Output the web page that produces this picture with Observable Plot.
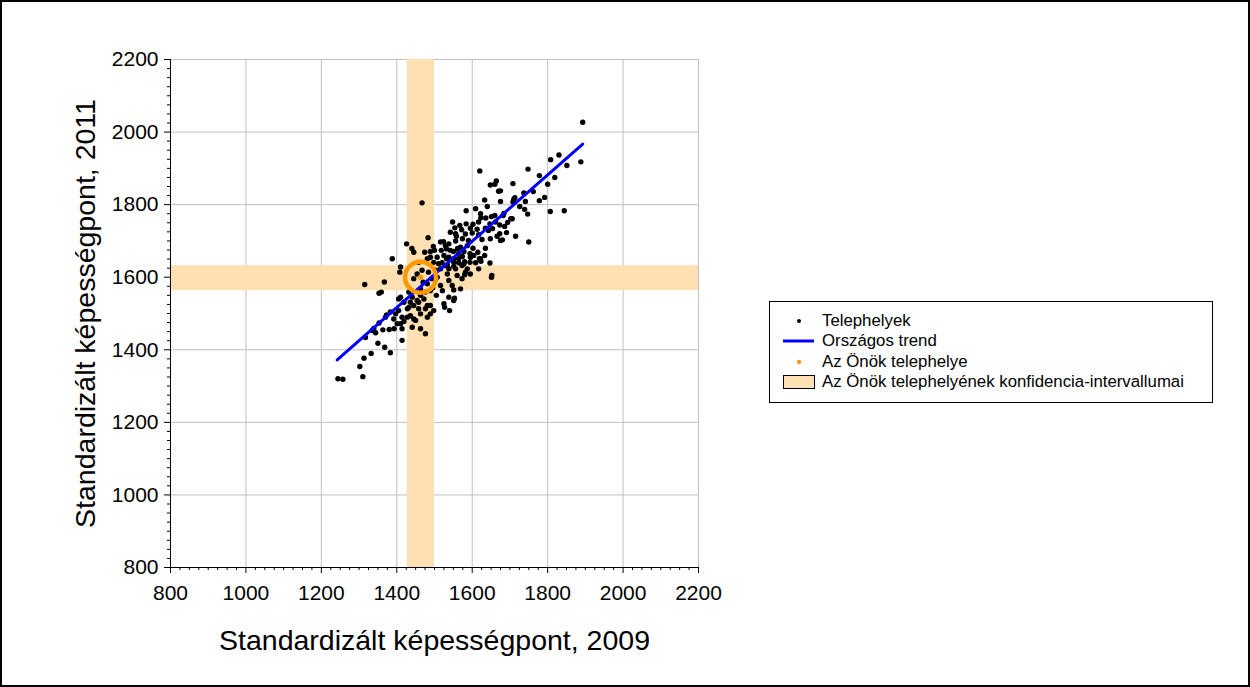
<!DOCTYPE html>
<html>
<head>
<meta charset="utf-8">
<script src="https://cdn.jsdelivr.net/npm/d3@7"></script>
<script src="https://cdn.jsdelivr.net/npm/@observablehq/plot@0.6"></script>
<style>
  html, body { margin: 0; padding: 0; background: #fff; }
  #wrap { position: relative; width: 1250px; height: 687px; overflow: hidden; font-family: "Liberation Sans", Arial, sans-serif; }
  #frame { position: absolute; left: 0; top: 0; width: 1250px; height: 687px; box-sizing: border-box; border: 2px solid #000; pointer-events: none; }
  #legend { position: absolute; left: 769px; top: 301px; width: 444px; height: 102px; box-sizing: border-box; border: 1px solid #000; background: #fff; }
  .row { position: absolute; left: 52px; font-size: 16.8px; line-height: 18px; color: #000; white-space: nowrap; }
  .sym { position: absolute; }
</style>
</head>
<body>
<div id="wrap">
  <div id="chart"></div>
  <div id="legend"></div>
  <div id="frame"></div>
</div>
<script>
// Site scores: 2009 (x) and 2011 (y)
const x2009 = [1893,1888,1851,1830,1808,1748,1778,1819,1800,1762,1792,1778,1844,1807,1741,1726,1739,1747,1750,1715,
  1708,1670,1664,1660,1648,1620,1675,1633,1640,1609,1584,1710,1706,1682,1675,1737,1675,1713,1708,
  1622,1623,1636,1651,1660,1684,1702,1662,1673,1647,1686,1548,1567,1584,1602,1617,1554,1572,1595,1613,1635,
  1542,1558,1582,1600,1617,1626,1648,1666,1673,1680,1524,1538,1556,1569,1587,1602,1518,1532,1550,1564,
  1578,1594,1604,1615,1622,1525,1538,1551,1564,1580,1594,1609,1647,1520,1534,1551,1573,1623,1652,1651,
  1580,1553,1551,1527,1540,1497,1483,1467,1426,1440,1388,1408,1315,1367,1359,1353,1556,1474,1489,1516,
  1507,1445,1481,1489,1498,1511,1529,1538,1551,1564,1578,1587,1595,1619,1617,1410,1467,1445,1454,1470,
  1481,1494,1507,1516,1534,1538,1547,1560,1573,1582,1595,1569,1463,1476,1489,1432,1441,1454,1463,1410,
  1419,1432,1445,1458,1476,1538,1525,1551,1405,1397,1383,1370,1392,1414,1436,1445,1463,1481,1489,1489,
  1498,1244,1257,1310,1302,1313,1332,1383,1368,1350,1414,1317,1335,1344,1363,1380,1393,1339,1353,1373,
  1410,1419,1441,1463,1476,1401,1414,1428,1450,1405,1428,1458,1472,1481,1436,1529,1542,1561,1574,1556,
  1516,1503,1532,1590,1574,1635,1633,1643,1654,1691,1694,1521,1505,1484,1495,1458,1500];
const y2011 = [2027,1918,1908,1937,1924,1898,1880,1875,1856,1836,1820,1811,1783,1781,1809,1795,1787,1774,1697,1713,
  1858,1837,1865,1856,1854,1893,1809,1813,1795,1789,1783,1814,1761,1770,1701,1832,1838,1819,1807,
  1775,1764,1763,1767,1770,1776,1761,1752,1744,1747,1740,1752,1743,1747,1746,1752,1736,1731,1735,1732,1735,
  1724,1713,1719,1722,1717,1704,1706,1713,1720,1703,1698,1692,1700,1683,1687,1680,1674,1678,1671,1666,
  1671,1665,1660,1669,1651,1660,1655,1651,1640,1643,1641,1640,1639,1640,1634,1630,1632,1644,1605,1600,
  1607,1542,1565,1517,1508,1685,1709,1805,1692,1679,1651,1614,1580,1587,1559,1556,1720,1669,1671,1697,
  1655,1669,1651,1655,1641,1637,1632,1623,1641,1651,1637,1623,1655,1651,1623,1628,1619,1596,1609,1586,
  1582,1596,1600,1577,1609,1591,1577,1605,1596,1614,1609,1568,1568,1559,1563,1559,1545,1536,1550,1545,
  1531,1517,1522,1513,1513,1545,1527,1536,1508,1499,1504,1490,1485,1490,1494,1485,1499,1490,1499,1522,
  1508,1320,1319,1326,1354,1377,1390,1392,1407,1418,1426,1434,1453,1447,1455,1456,1458,1459,1474,1496,
  1472,1478,1462,1458,1444,1472,1458,1490,1481,1540,1513,1531,1540,1522,1531,1687,1674,1679,1657,1623,
  1623,1619,1651,1701,1706,1680,1660,1729,1734,1723,1751,1563,1550,1614,1570,1641,1674];

// National trend (endpoints)
const trendX = [1242, 1893];
const trendY = [1372, 1967];

// Your site and its confidence intervals
const siteX = 1463, siteY = 1600;
const ciX = [1428, 1500];
const ciY = [1563, 1632];

// Axis ticks and labels
const xTicks = [800,1000,1200,1400,1600,1800,2000,2200];
const xTickLabels = ["800","1000","1200","1400","1600","1800","2000","2200"];
const yTicks = [800,1000,1200,1400,1600,1800,2000,2200];
const yTickLabels = ["800","1000","1200","1400","1600","1800","2000","2200"];
const minorStep = 25;
const xTitle = "Standardizált képességpont, 2009";
const yTitle = "Standardizált képességpont, 2011";

const legendItems = ["Telephelyek", "Országos trend", "Az Önök telephelye", "Az Önök telephelyének konfidencia-intervallumai"];

const bandColor = "#ffe0b2";
const orange = "#ff9900";

const minor = d3.range(800, 2200 + 1e-9, minorStep).filter(v => !xTicks.includes(v));
const trend = trendX.map((x, i) => ({x, y: trendY[i]}));

const chart = Plot.plot({
  width: 1250,
  height: 687,
  marginLeft: 170,
  marginRight: 552,
  marginTop: 59,
  marginBottom: 120,
  x: {domain: [800, 2200]},
  y: {domain: [800, 2200]},
  style: {fontFamily: "Liberation Sans, Arial, sans-serif", color: "#000", background: "transparent", overflow: "visible"},
  marks: [
    Plot.gridX(xTicks, {stroke: "#c0c0c0", strokeOpacity: 1}),
    Plot.gridY(yTicks, {stroke: "#c0c0c0", strokeOpacity: 1}),
    Plot.rect([{a: ciX[0], b: ciX[1]}], {x1: "a", x2: "b", fill: bandColor}),
    Plot.rect([{a: ciY[0], b: ciY[1]}], {y1: "a", y2: "b", fill: bandColor}),
    Plot.dot(x2009, {x: x2009, y: y2011, r: 2.7, fill: "#000", stroke: "none"}),
    Plot.line(trend, {x: "x", y: "y", stroke: "#0000ff", strokeWidth: 3}),
    Plot.dot([{x: siteX, y: siteY}], {x: "x", y: "y", r: 15.5, fill: "none", stroke: orange, strokeWidth: 4.5}),
    Plot.dot([{x: siteX, y: siteY}], {x: "x", y: "y", r: 2.7, fill: orange, stroke: "none"}),
    Plot.ruleX([800], {stroke: "#000", strokeWidth: 1}),
    Plot.ruleY([800], {stroke: "#000", strokeWidth: 1}),
    Plot.axisX(minor, {anchor: "bottom", tickSize: 3, tickFormat: () => "", label: null}),
    Plot.axisY(minor, {anchor: "left", tickSize: 3, tickFormat: () => "", label: null}),
    Plot.axisX(xTicks, {anchor: "bottom", tickSize: 6, tickPadding: 12, fontSize: 21, label: null,
      tickFormat: d => xTickLabels[xTicks.indexOf(d)]}),
    Plot.axisY(yTicks, {anchor: "left", tickSize: 6, tickPadding: 6, fontSize: 21, label: null,
      tickFormat: d => yTickLabels[yTicks.indexOf(d)]}),
    Plot.text([xTitle], {frameAnchor: "bottom", lineAnchor: "middle", textAnchor: "middle", dy: 73, fontSize: 28.5, text: d => d, fill: "#000"}),
    Plot.text([yTitle], {frameAnchor: "left", lineAnchor: "middle", textAnchor: "middle", dx: -85, rotate: -90, fontSize: 28.5, text: d => d, fill: "#000"})
  ]
});
document.getElementById("chart").appendChild(chart);

// Legend
const lg = document.getElementById("legend");
const rowsTop = [10, 30, 51, 71];
const symbols = [
  `<svg width="34" height="18"><circle cx="17" cy="9" r="2" fill="#000"/></svg>`,
  `<svg width="34" height="18"><line x1="1" y1="9" x2="32" y2="9" stroke="#0000ff" stroke-width="3"/></svg>`,
  `<svg width="34" height="18"><circle cx="17" cy="9" r="2.2" fill="${orange}"/></svg>`,
  `<svg width="34" height="18"><rect x="1.5" y="2.5" width="31" height="13" fill="${bandColor}" stroke="#000" stroke-width="1"/></svg>`
];
legendItems.forEach((t, i) => {
  const s = document.createElement("div");
  s.className = "sym";
  s.style.left = "12px";
  s.style.top = rowsTop[i] + "px";
  s.innerHTML = symbols[i];
  lg.appendChild(s);
  const r = document.createElement("div");
  r.className = "row";
  r.style.top = rowsTop[i] + "px";
  r.textContent = t;
  lg.appendChild(r);
});
</script>
</body>
</html>
